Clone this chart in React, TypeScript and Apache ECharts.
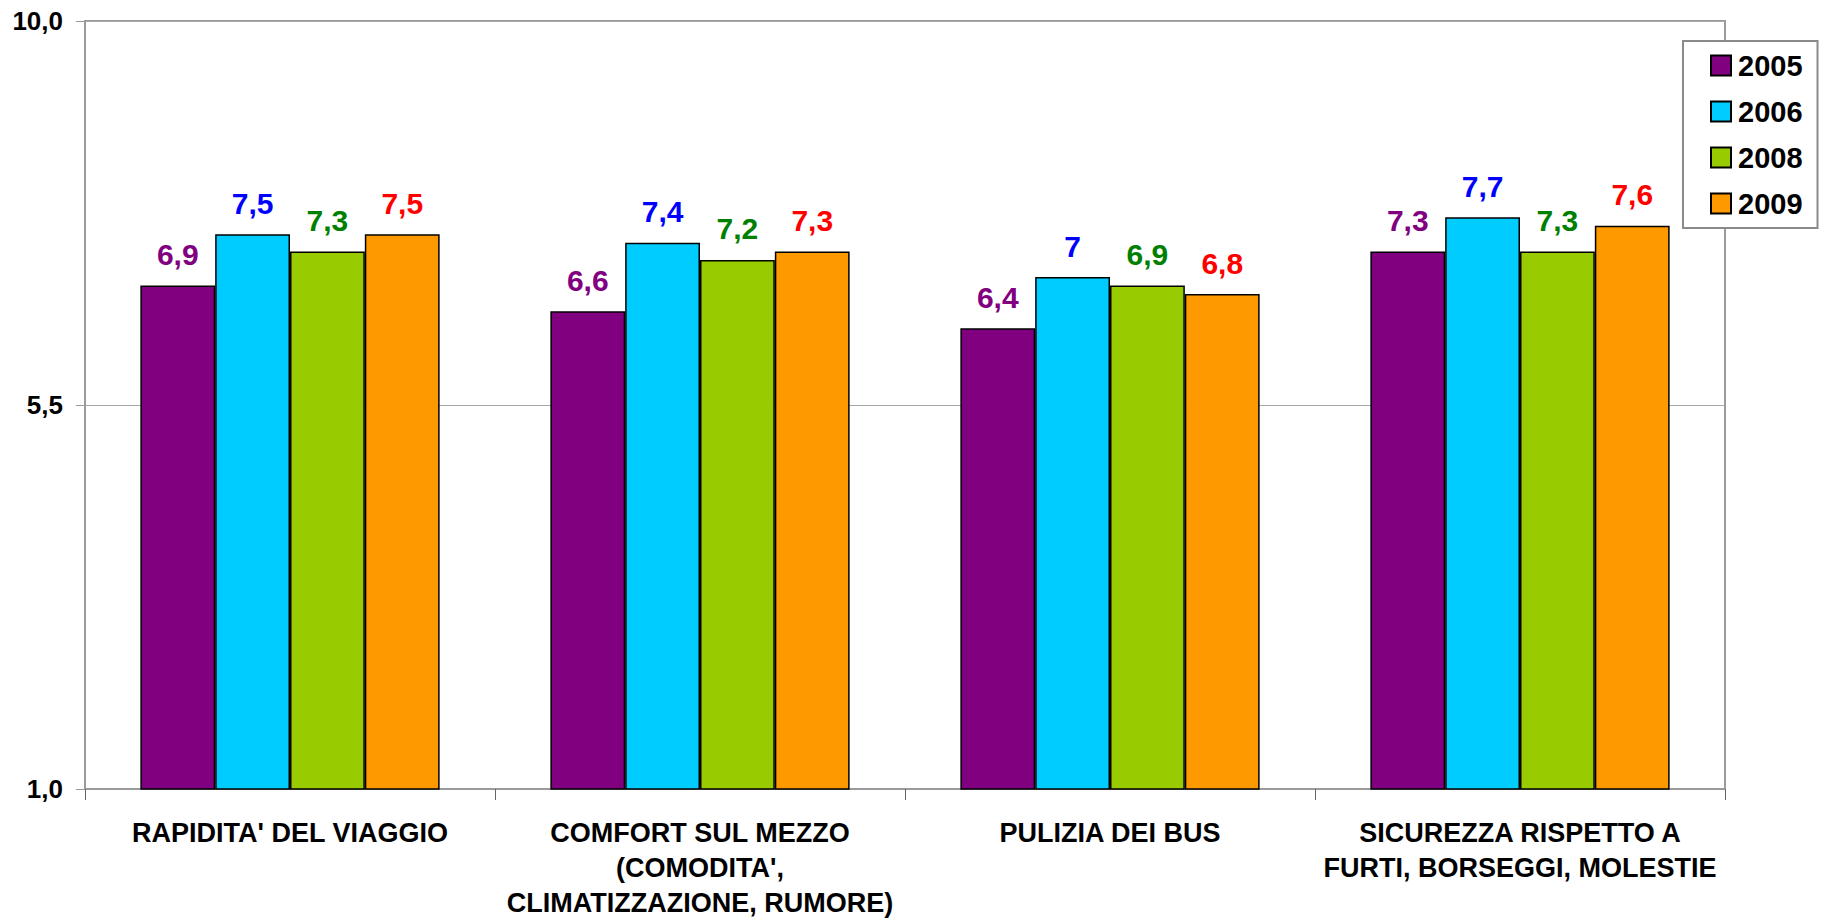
import React, { useEffect, useRef } from "react";
import * as echarts from "echarts";

const categories = [
  "RAPIDITA' DEL VIAGGIO",
  "COMFORT SUL MEZZO\n(COMODITA',\nCLIMATIZZAZIONE, RUMORE)",
  "PULIZIA DEI BUS",
  "SICUREZZA RISPETTO A\nFURTI, BORSEGGI, MOLESTIE",
];
const seriesNames = ["2005", "2006", "2008", "2009"];
const values2005 = [6.9, 6.6, 6.4, 7.3];
const values2006 = [7.5, 7.4, 7.0, 7.7];
const values2008 = [7.3, 7.2, 6.9, 7.3];
const values2009 = [7.5, 7.3, 6.8, 7.6];
const yTicks = [1, 5.5, 10];

const barColors = ["#800080", "#00CCFF", "#99CC00", "#FF9900"];
const labelColors = ["#800080", "#0000FF", "#008000", "#FF0000"];

export default function App() {
  const ref = useRef<HTMLDivElement>(null);
  useEffect(() => {
    if (!ref.current) return;
    const chart = echarts.init(ref.current, null, { renderer: "svg" });
    const allValues = [values2005, values2006, values2008, values2009];
    const fmt = (v: number) => String(v).replace(".", ",");
    chart.setOption({
      animation: false,
      backgroundColor: "#ffffff",
      textStyle: { fontFamily: "Liberation Sans, Arial, sans-serif" },
      grid: {
        left: 85,
        right: 100,
        top: 21,
        bottom: 129,
        show: true,
        borderColor: "#9a9a9a",
        borderWidth: 2,
      },
      legend: {
        data: seriesNames,
        orient: "vertical",
        left: 1683,
        top: 41,
        backgroundColor: "#ffffff",
        borderColor: "#8a8a8a",
        borderWidth: 2,
        borderRadius: 0,
        padding: [10, 15, 10, 27],
        itemWidth: 20,
        itemHeight: 20,
        itemGap: 17,
        icon: "rect",
        textStyle: {
          fontSize: 29,
          fontWeight: "bold",
          color: "#000",
          padding: [0, 0, 0, 2],
          fontFamily: "Liberation Sans, Arial, sans-serif",
        },
      },
      xAxis: {
        type: "category",
        data: categories,
        axisLine: { lineStyle: { color: "#9a9a9a", width: 2 } },
        axisTick: { show: true, length: 11, alignWithLabel: false, lineStyle: { color: "#666", width: 1 } },
        axisLabel: {
          interval: 0,
          margin: 26,
          fontSize: 27,
          lineHeight: 35,
          fontWeight: "bold",
          color: "#000",
          fontFamily: "Liberation Sans Narrow, Arial Narrow, Liberation Sans, sans-serif",
        },
      },
      yAxis: {
        type: "value",
        min: yTicks[0],
        max: yTicks[yTicks.length - 1],
        interval: yTicks[1] - yTicks[0],
        axisLine: { show: true, lineStyle: { color: "#9a9a9a", width: 2 } },
        axisTick: { show: true, length: 9, lineStyle: { color: "#9a9a9a", width: 1 } },
        splitLine: { show: true, lineStyle: { color: "#a8a8a8", width: 1 } },
        axisLabel: {
          margin: 22,
          fontSize: 26,
          fontWeight: "bold",
          color: "#000",
          formatter: (v: number) => v.toFixed(1).replace(".", ","),
        },
      },
      series: seriesNames.map((name, i) => ({
        name,
        type: "bar",
        data: allValues[i],
        barGap: "0%",
        barCategoryGap: "27%",
        itemStyle: { color: barColors[i], borderColor: "#000", borderWidth: 1.5 },
        label: {
          show: true,
          position: "top",
          distance: 16,
          fontSize: 30,
          fontWeight: "bold",
          color: labelColors[i],
          formatter: (p: any) => fmt(p.value),
        },
      })),
    });
    return () => chart.dispose();
  }, []);
  return (
    <div
      ref={ref}
      style={{ position: "fixed", left: 0, top: 0, width: 1825, height: 920, background: "#fff" }}
    />
  );
}
